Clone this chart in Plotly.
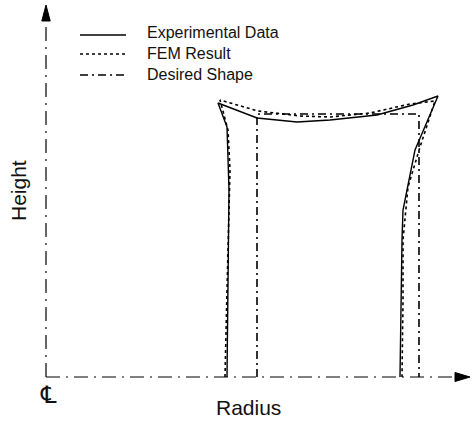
import plotly.graph_objects as go

# ---- data (radius, height in arbitrary units; centreline at radius 0) ----
exp_r = [18.1, 18.2, 18.3, 18.1, 17.2, 21.1, 25.1, 28.4, 33.1, 36.7, 39.2,
         36.9, 35.7, 35.6, 35.5, 35.4]
exp_h = [0.0, 8.7, 18.7, 25.0, 27.4, 25.9, 25.5, 25.7, 26.2, 27.2, 28.1,
         22.7, 16.7, 13.7, 7.7, 0.0]

fem_r = [17.9, 18.0, 18.1, 18.4, 18.2, 17.4, 21.2, 25.4, 28.4, 32.4, 36.4,
         38.9, 37.4, 36.2, 35.7, 35.7, 35.6]
fem_h = [0.0, 3.2, 8.7, 20.7, 24.7, 27.7, 26.6, 26.1, 26.0, 26.4, 27.3,
         27.6, 23.0, 19.0, 13.7, 7.7, 0.0]

des_r = [21.1, 21.1, 37.3, 37.3]
des_h = [0.0, 26.3, 26.3, 0.0]

legend_labels = ["Experimental Data", "FEM Result", "Desired Shape"]
legend_dash = ["solid", "dot", "8px,4px,2px,4px"]

FONT = "Liberation Sans, Arial, sans-serif"
W, H = 473, 422

fig = go.Figure()
fig.add_trace(go.Scatter(x=exp_r, y=exp_h, mode="lines", name=legend_labels[0],
                         line=dict(color="black", width=1.4, dash=legend_dash[0]),
                         showlegend=False))
fig.add_trace(go.Scatter(x=fem_r, y=fem_h, mode="lines", name=legend_labels[1],
                         line=dict(color="black", width=1.6, dash=legend_dash[1]),
                         showlegend=False))
fig.add_trace(go.Scatter(x=des_r, y=des_h, mode="lines", name=legend_labels[2],
                         line=dict(color="black", width=1.6, dash=legend_dash[2]),
                         showlegend=False))

shapes = []
# axes (dash-dot) in data coordinates
shapes.append(dict(type="line", xref="x", yref="y", x0=0, y0=0, x1=40.9, y1=0,
                   line=dict(color="black", width=1.2, dash="14px,6px,2px,6px")))
shapes.append(dict(type="line", xref="x", yref="y", x0=0, y0=0, x1=0, y1=35.6,
                   line=dict(color="black", width=1.2, dash="14px,6px,2px,6px")))
# arrow heads
shapes.append(dict(type="path", xref="x", yref="y",
                   path="M -0.42 35.6 L 0 37.2 L 0.42 35.6 Z",
                   fillcolor="black", line=dict(color="black", width=1)))
shapes.append(dict(type="path", xref="x", yref="y",
                   path="M 40.9 0.45 L 42.4 0 L 40.9 -0.45 Z",
                   fillcolor="black", line=dict(color="black", width=1)))

# legend samples (paper coords, pixel based)
def px(xp):
    return xp / W

def py(yp):
    return 1 - yp / H

leg_line_y = [35, 54, 75]
leg_text_y = [32, 53, 74]
annotations = []
for lab, dash, ly, ty in zip(legend_labels, legend_dash, leg_line_y, leg_text_y):
    shapes.append(dict(type="line", xref="paper", yref="paper",
                       x0=px(80), x1=px(126), y0=py(ly), y1=py(ly),
                       line=dict(color="black", width=1.3, dash=dash)))
    annotations.append(dict(text=lab, xref="paper", yref="paper", x=px(145), y=py(ty),
                            xanchor="left", yanchor="middle", showarrow=False,
                            font=dict(family=FONT, size=16, color="#111")))

annotations.append(dict(text="Radius", xref="paper", yref="paper", x=px(249), y=py(407),
                        xanchor="center", yanchor="middle", showarrow=False,
                        font=dict(family=FONT, size=21, color="#111")))
annotations.append(dict(text="Height", xref="paper", yref="paper", x=px(19), y=py(191),
                        xanchor="center", yanchor="middle", showarrow=False, textangle=-90,
                        font=dict(family=FONT, size=21, color="#111")))
annotations.append(dict(text="\u2104", xref="paper", yref="paper", x=px(48), y=py(395),
                        xanchor="center", yanchor="middle", showarrow=False,
                        font=dict(family="DejaVu Sans, sans-serif", size=24, color="#111")))

fig.update_layout(
    width=W, height=H, autosize=False,
    margin=dict(l=0, r=0, t=0, b=0, pad=0),
    paper_bgcolor="white", plot_bgcolor="white",
    xaxis=dict(range=[-4.6, 42.7], visible=False, fixedrange=True),
    yaxis=dict(range=[-4.5, 37.7], visible=False, fixedrange=True),
    shapes=shapes, annotations=annotations, showlegend=False,
)

fig.write_html("out.html")
